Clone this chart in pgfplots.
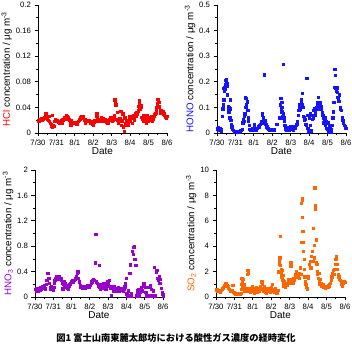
\documentclass[border=0pt]{standalone}
\usepackage{pgfplots}
\pgfplotsset{compat=1.18}
\usepackage{fontspec}
\setmainfont{Liberation Sans}
\newfontfamily\cjk{Noto Sans CJK JP}
\definecolor{cHCl}{RGB}{255,0,0}
\definecolor{cHONO}{RGB}{20,20,255}
\definecolor{cHNO}{RGB}{153,0,204}
\definecolor{cSO}{RGB}{255,102,0}
\pgfplotsset{
  panel/.style={
    scale only axis, width=129bp, height=128bp,
    xmin=0, xmax=7, ymin=0,
    axis lines*=left,
    axis line style={-, line width=0.9pt},
    every tick/.style={black, line width=0.8pt},
    tick align=outside,
    major tick length=3.5bp, minor tick length=2bp,
    xtick={0,1,2,3,4,5,6,7},
    xticklabels={7/30,7/31,8/1,8/2,8/3,8/4,8/5,8/6},
    minor x tick num=1, minor y tick num=1,
    tick label style={font=\fontsize{7.8}{8}\selectfont},
    /pgf/number format/assume math mode=true,
    /pgf/number format/fixed,
    xlabel={Date},
    xlabel style={font=\fontsize{10}{10}\selectfont, yshift=5bp},
    ylabel style={font=\fontsize{9.8}{10}\selectfont, yshift=-3bp},
    only marks,
    every axis plot/.append style={mark=square*, mark size=1.15bp},
  }
}
\begin{document}
\begin{tikzpicture}
\path[use as bounding box] (0bp,0bp) rectangle (352bp,351bp);
% HCl
\begin{axis}[panel, at={(38bp,218bp)}, anchor=south west, ymax=0.2,
  ytick={0,0.04,0.08,0.12,0.16,0.2},
  ylabel={{\color{cHCl}HCl} concentration / μg m\textsuperscript{-3}}]
\addplot[cHCl, mark options={fill=cHCl, draw=cHCl}] coordinates {
(0.00,0.020)(0.04,0.019)(0.08,0.021)(0.12,0.020)(0.16,0.022)(0.20,0.023)(0.24,0.021)(0.28,0.022)(0.32,0.024)(0.36,0.025)
(0.40,0.027)(0.42,0.030)(0.46,0.024)(0.50,0.022)(0.54,0.020)(0.58,0.026)(0.62,0.018)(0.66,0.015)(0.70,0.013)(0.74,0.011)
(0.76,0.028)(0.78,0.010)(0.82,0.012)(0.86,0.011)(0.90,0.018)(0.94,0.021)(0.98,0.020)(1.02,0.019)(1.06,0.018)(1.10,0.017)
(1.14,0.016)(1.18,0.017)(1.22,0.018)(1.26,0.020)(1.30,0.016)(1.34,0.021)(1.38,0.022)(1.42,0.024)(1.46,0.022)(1.50,0.025)
(1.54,0.028)(1.58,0.026)(1.62,0.024)(1.66,0.022)(1.70,0.020)(1.74,0.018)(1.78,0.013)(1.82,0.019)(1.86,0.017)(1.90,0.016)
(1.94,0.015)(1.98,0.016)(2.02,0.017)(2.06,0.015)(2.10,0.014)(2.14,0.016)(2.18,0.018)(2.22,0.020)(2.26,0.022)(2.30,0.024)
(2.34,0.026)(2.38,0.025)(2.42,0.026)(2.46,0.024)(2.50,0.022)(2.54,0.021)(2.58,0.015)(2.62,0.020)(2.66,0.019)(2.70,0.020)
(2.74,0.018)(2.78,0.019)(2.82,0.017)(2.86,0.015)(2.90,0.018)(2.94,0.014)(2.98,0.013)(3.02,0.017)(3.06,0.020)(3.10,0.018)
(3.14,0.026)(3.18,0.030)(3.22,0.024)(3.26,0.021)(3.30,0.019)(3.34,0.022)(3.38,0.020)(3.42,0.024)(3.46,0.021)(3.50,0.019)
(3.54,0.023)(3.58,0.018)(3.62,0.021)(3.66,0.020)(3.70,0.017)(3.74,0.019)(3.78,0.016)(3.82,0.018)(3.86,0.021)(3.90,0.022)
(3.94,0.025)(3.98,0.020)(4.02,0.018)(4.06,0.021)(4.10,0.024)(4.14,0.027)(4.17,0.052)(4.19,0.048)(4.21,0.044)(4.24,0.022)
(4.28,0.033)(4.32,0.020)(4.36,0.016)(4.40,0.018)(4.44,0.023)(4.48,0.034)(4.52,0.012)(4.56,0.019)(4.60,0.030)(4.63,0.010)
(4.67,0.003)(4.70,0.024)(4.74,0.015)(4.78,0.013)(4.82,0.020)(4.86,0.017)(4.90,0.012)(4.94,0.022)(4.98,0.026)(5.02,0.018)
(5.06,0.023)(5.10,0.015)(5.14,0.025)(5.18,0.028)(5.22,0.021)(5.26,0.030)(5.30,0.027)(5.34,0.032)(5.38,0.030)(5.42,0.035)
(5.46,0.042)(5.48,0.046)(5.50,0.051)(5.52,0.041)(5.55,0.038)(5.58,0.043)(5.61,0.040)(5.63,0.025)(5.66,0.022)(5.70,0.018)
(5.74,0.028)(5.78,0.024)(5.82,0.020)(5.86,0.016)(5.90,0.027)(5.94,0.022)(5.98,0.019)(6.02,0.025)(6.06,0.023)(6.10,0.021)
(6.14,0.026)(6.18,0.018)(6.22,0.022)(6.26,0.025)(6.30,0.027)(6.34,0.029)(6.38,0.031)(6.41,0.035)(6.44,0.040)(6.47,0.046)
(6.50,0.053)(6.53,0.052)(6.56,0.048)(6.59,0.041)(6.62,0.035)(6.66,0.031)(6.70,0.036)(6.74,0.033)(6.78,0.034)(6.82,0.030)
(6.86,0.028)(6.90,0.025)(6.94,0.023)(6.98,0.026)
};
\end{axis}
% HONO
\begin{axis}[panel, at={(217bp,218bp)}, anchor=south west, ymax=0.5,
  ytick={0,0.1,0.2,0.3,0.4,0.5},
  ylabel={{\color{cHONO}HONO} concentration / μg m\textsuperscript{-3}}]
\addplot[cHONO, mark options={fill=cHONO, draw=cHONO}] coordinates {
(0.00,0.020)(0.03,0.015)(0.06,0.022)(0.09,0.010)(0.12,0.018)(0.15,0.012)(0.18,0.020)(0.21,0.008)(0.24,0.015)(0.29,0.065)
(0.31,0.095)(0.33,0.110)(0.34,0.175)(0.36,0.130)(0.38,0.170)(0.40,0.165)(0.42,0.180)(0.44,0.170)(0.46,0.190)(0.48,0.205)
(0.49,0.210)(0.51,0.190)(0.53,0.195)(0.55,0.185)(0.57,0.150)(0.59,0.105)(0.61,0.095)(0.63,0.080)(0.65,0.100)(0.67,0.060)
(0.69,0.095)(0.71,0.130)(0.73,0.060)(0.75,0.050)(0.77,0.035)(0.80,0.025)(0.84,0.015)(0.88,0.010)(0.92,0.008)(0.96,0.005)
(1.00,0.003)(1.04,0.002)(1.08,0.004)(1.12,0.003)(1.16,0.006)(1.20,0.005)(1.24,0.008)(1.28,0.012)(1.32,0.010)(1.36,0.015)
(1.40,0.040)(1.43,0.055)(1.46,0.045)(1.48,0.065)(1.50,0.075)(1.52,0.100)(1.54,0.140)(1.56,0.135)(1.58,0.100)(1.60,0.110)
(1.62,0.120)(1.64,0.125)(1.66,0.090)(1.68,0.060)(1.70,0.045)(1.74,0.030)(1.78,0.015)(1.82,0.010)(1.86,0.015)(1.90,0.012)
(1.94,0.018)(1.98,0.015)(2.02,0.032)(2.06,0.015)(2.10,0.012)(2.14,0.018)(2.18,0.020)(2.22,0.022)(2.26,0.025)(2.30,0.030)
(2.34,0.035)(2.38,0.040)(2.42,0.045)(2.45,0.075)(2.47,0.070)(2.49,0.060)(2.51,0.055)(2.53,0.050)(2.55,0.045)(2.57,0.228)
(2.59,0.040)(2.61,0.050)(2.64,0.035)(2.67,0.030)(2.70,0.025)(2.73,0.020)(2.76,0.018)(2.80,0.015)(2.84,0.012)(2.88,0.010)
(2.92,0.015)(2.96,0.012)(3.00,0.010)(3.04,0.012)(3.08,0.010)(3.12,0.015)(3.24,0.035)(3.40,0.060)(3.43,0.110)(3.45,0.135)
(3.47,0.095)(3.49,0.080)(3.51,0.120)(3.53,0.100)(3.55,0.085)(3.57,0.065)(3.59,0.075)(3.60,0.268)(3.62,0.060)(3.64,0.045)
(3.67,0.030)(3.70,0.025)(3.73,0.015)(3.76,0.010)(3.80,0.018)(3.84,0.022)(3.88,0.015)(3.92,0.012)(3.96,0.020)(4.00,0.025)
(4.04,0.018)(4.08,0.015)(4.12,0.012)(4.16,0.020)(4.20,0.025)(4.24,0.018)(4.28,0.030)(4.32,0.035)(4.36,0.045)(4.40,0.070)
(4.43,0.090)(4.46,0.110)(4.49,0.095)(4.52,0.100)(4.55,0.120)(4.58,0.130)(4.61,0.110)(4.63,0.155)(4.66,0.100)(4.69,0.065)
(4.72,0.060)(4.75,0.050)(4.78,0.055)(4.81,0.035)(4.84,0.030)(4.87,0.215)(4.89,0.070)(4.92,0.020)(4.95,0.010)(4.98,0.005)
(5.01,0.060)(5.04,0.075)(5.07,0.030)(5.10,0.010)(5.13,0.008)(5.16,0.055)(5.19,0.070)(5.22,0.060)(5.25,0.090)(5.28,0.095)
(5.31,0.070)(5.34,0.080)(5.37,0.095)(5.40,0.100)(5.43,0.110)(5.46,0.120)(5.49,0.140)(5.52,0.115)(5.55,0.095)(5.58,0.110)
(5.61,0.120)(5.64,0.105)(5.67,0.095)(5.70,0.080)(5.73,0.070)(5.76,0.060)(5.79,0.040)(5.82,0.050)(5.85,0.060)(5.88,0.030)
(5.91,0.020)(5.94,0.045)(5.97,0.015)(6.00,0.040)(6.03,0.010)(6.06,0.005)(6.09,0.030)(6.12,0.020)(6.15,0.010)(6.18,0.003)
(6.21,0.015)(6.24,0.030)(6.28,0.060)(6.31,0.083)(6.34,0.120)(6.37,0.180)(6.39,0.250)(6.41,0.225)(6.43,0.175)(6.45,0.165)
(6.47,0.170)(6.49,0.180)(6.51,0.160)(6.53,0.175)(6.55,0.140)(6.58,0.130)(6.61,0.125)(6.64,0.150)(6.67,0.100)(6.70,0.095)
(6.74,0.090)(6.78,0.060)(6.82,0.050)(6.86,0.040)(6.90,0.030)(6.94,0.025)(6.98,0.020)
};
\end{axis}
% HNO3
\begin{axis}[panel, at={(35bp,54bp)}, anchor=south west, width=128bp, height=127bp, ymax=2,
  ytick={0,0.4,0.8,1.2,1.6,2},
  ylabel={{\color{cHNO}HNO\textsubscript{3}} concentration / μg m\textsuperscript{-3}}]
\addplot[cHNO, mark options={fill=cHNO, draw=cHNO}] coordinates {
(0.00,0.12)(0.05,0.10)(0.10,0.13)(0.15,0.09)(0.20,0.14)(0.25,0.11)(0.30,0.15)(0.35,0.12)(0.40,0.16)(0.45,0.14)
(0.50,0.18)(0.55,0.13)(0.60,0.20)(0.64,0.27)(0.68,0.37)(0.72,0.38)(0.75,0.30)(0.78,0.22)(0.82,0.15)(0.86,0.12)
(0.90,0.16)(0.94,0.13)(0.98,0.11)(1.02,0.15)(1.05,0.22)(1.08,0.26)(1.12,0.30)(1.16,0.32)(1.20,0.33)(1.24,0.29)
(1.28,0.31)(1.32,0.32)(1.36,0.28)(1.40,0.30)(1.44,0.26)(1.48,0.22)(1.52,0.13)(1.54,0.20)(1.58,0.24)(1.62,0.18)
(1.66,0.22)(1.70,0.19)(1.74,0.16)(1.78,0.14)(1.82,0.12)(1.86,0.17)(1.90,0.20)(1.94,0.22)(1.98,0.25)(2.02,0.23)
(2.06,0.27)(2.10,0.24)(2.14,0.26)(2.18,0.28)(2.22,0.30)(2.26,0.33)(2.30,0.37)(2.34,0.40)(2.38,0.30)(2.42,0.24)
(2.46,0.19)(2.50,0.16)(2.54,0.17)(2.58,0.14)(2.62,0.16)(2.66,0.15)(2.70,0.17)(2.74,0.14)(2.78,0.16)(2.82,0.15)
(2.86,0.18)(2.90,0.16)(2.94,0.15)(2.98,0.17)(3.02,0.19)(3.06,0.22)(3.10,0.24)(3.14,0.27)(3.18,0.28)(3.24,0.26)
(3.28,0.54)(3.32,0.99)(3.36,0.24)(3.40,0.22)(3.44,0.20)(3.48,0.18)(3.50,0.50)(3.54,0.15)(3.58,0.12)(3.62,0.20)
(3.66,0.17)(3.70,0.14)(3.74,0.21)(3.78,0.16)(3.82,0.19)(3.86,0.12)(3.90,0.22)(3.94,0.18)(3.98,0.25)(4.02,0.20)
(4.06,0.27)(4.10,0.14)(4.14,0.17)(4.18,0.03)(4.22,0.15)(4.26,0.13)(4.30,0.10)(4.34,0.16)(4.38,0.12)(4.42,0.09)
(4.46,0.14)(4.50,0.11)(4.54,0.15)(4.58,0.12)(4.62,0.10)(4.66,0.13)(4.70,0.11)(4.74,0.14)(4.78,0.12)(4.82,0.10)
(4.86,0.13)(4.90,0.16)(4.94,0.22)(4.98,0.30)(5.02,0.05)(5.06,0.02)(5.10,0.10)(5.14,0.02)(5.18,0.37)(5.20,0.51)
(5.24,0.02)(5.28,0.05)(5.32,0.72)(5.36,0.67)(5.40,0.78)(5.42,0.79)(5.46,0.60)(5.50,0.50)(5.54,0.02)(5.58,0.10)
(5.62,0.05)(5.66,0.12)(5.70,0.02)(5.74,0.08)(5.78,0.12)(5.82,0.15)(5.86,0.10)(5.90,0.20)(5.94,0.22)(5.98,0.18)
(6.02,0.15)(6.06,0.08)(6.10,0.02)(6.14,0.02)(6.18,0.03)(6.22,0.15)(6.26,0.02)(6.30,0.18)(6.34,0.12)(6.38,0.02)
(6.42,0.02)(6.46,0.10)(6.50,0.47)(6.54,0.02)(6.58,0.02)(6.62,0.40)(6.66,0.42)(6.70,0.30)(6.74,0.26)(6.78,0.32)
(6.82,0.22)(6.86,0.28)(6.90,0.14)(6.94,0.08)(6.98,0.04)(7.00,0.02)
};
\end{axis}
% SO2
\begin{axis}[panel, at={(216bp,54bp)}, anchor=south west, width=129bp, height=127bp, ymax=10,
  ytick={0,2,4,6,8,10},
  ylabel={{\color{cSO}SO\textsubscript{2}} concentration / μg m\textsuperscript{-3}}]
\addplot[cSO, mark options={fill=cSO, draw=cSO}] coordinates {
(0.00,0.55)(0.04,0.60)(0.08,0.50)(0.12,0.55)(0.16,0.45)(0.20,0.50)(0.24,0.40)(0.28,0.55)(0.32,0.60)(0.36,0.70)
(0.40,0.75)(0.44,0.85)(0.48,0.95)(0.52,1.05)(0.56,1.00)(0.60,0.90)(0.64,0.85)(0.68,0.70)(0.72,0.60)(0.76,0.55)
(0.80,0.50)(0.84,0.45)(0.88,0.50)(0.90,0.95)(0.94,0.40)(0.98,0.35)(1.02,0.30)(1.06,0.25)(1.10,0.22)(1.14,0.20)
(1.18,0.25)(1.22,0.22)(1.26,0.28)(1.30,0.25)(1.34,0.30)(1.36,0.60)(1.38,1.00)(1.40,1.50)(1.42,1.20)(1.44,0.80)
(1.46,1.40)(1.48,0.70)(1.50,1.00)(1.52,0.60)(1.54,0.80)(1.56,0.50)(1.58,0.70)(1.62,0.55)(1.66,0.65)(1.70,1.80)
(1.72,2.10)(1.74,1.90)(1.76,0.50)(1.80,0.65)(1.84,0.40)(1.88,0.70)(1.92,0.55)(1.96,0.80)(2.00,0.45)(2.04,0.60)
(2.08,0.35)(2.12,0.70)(2.16,0.50)(2.20,0.75)(2.24,0.40)(2.28,0.55)(2.32,0.65)(2.36,0.45)(2.40,0.80)(2.44,0.60)
(2.48,1.20)(2.50,1.05)(2.54,0.70)(2.58,0.50)(2.62,0.85)(2.66,0.40)(2.70,0.65)(2.74,0.35)(2.78,0.60)(2.82,0.45)
(2.86,0.70)(2.90,0.50)(2.94,0.40)(2.98,0.75)(3.02,0.55)(3.06,1.00)(3.10,0.45)(3.14,0.60)(3.18,0.40)(3.22,0.70)
(3.26,0.50)(3.30,0.35)(3.34,0.55)(3.40,2.00)(3.42,2.80)(3.44,2.60)(3.46,3.10)(3.48,4.80)(3.50,2.50)(3.52,2.20)
(3.54,1.90)(3.56,1.60)(3.58,2.10)(3.60,1.40)(3.62,1.30)(3.64,1.70)(3.66,1.10)(3.68,0.90)(3.70,1.20)(3.74,0.80)
(3.78,1.00)(3.82,1.10)(3.86,0.95)(3.90,1.20)(3.94,1.40)(3.98,1.10)(4.02,1.30)(4.05,2.70)(4.06,2.40)(4.08,1.20)
(4.12,1.40)(4.16,1.10)(4.20,1.50)(4.24,1.30)(4.28,1.60)(4.32,1.80)(4.36,2.00)(4.40,1.60)(4.44,1.70)(4.48,1.90)
(4.52,1.50)(4.56,2.30)(4.60,1.80)(4.62,4.30)(4.64,7.40)(4.66,7.60)(4.67,7.80)(4.69,6.30)(4.71,5.20)(4.73,4.30)
(4.75,3.60)(4.77,3.00)(4.79,2.20)(4.81,1.60)(4.84,1.20)(4.87,1.00)(4.90,0.80)(4.93,0.60)(4.96,0.70)(4.99,1.50)
(5.02,1.60)(5.06,2.60)(5.10,2.80)(5.14,2.30)(5.18,3.20)(5.22,3.60)(5.25,2.80)(5.28,5.40)(5.31,4.10)(5.34,3.10)
(5.36,8.60)(5.38,7.20)(5.40,6.90)(5.42,2.70)(5.44,4.50)(5.46,2.60)(5.48,2.00)(5.51,1.80)(5.54,1.50)(5.57,1.90)
(5.60,1.20)(5.63,1.00)(5.66,1.40)(5.69,0.90)(5.72,1.10)(5.76,0.85)(5.80,1.00)(5.84,0.80)(5.88,0.75)(5.92,0.70)
(5.96,0.80)(6.00,0.75)(6.04,0.85)(6.08,0.80)(6.12,0.90)(6.16,1.00)(6.20,1.10)(6.24,1.30)(6.28,1.60)(6.32,1.90)
(6.36,2.10)(6.40,1.80)(6.44,2.20)(6.48,2.60)(6.50,3.00)(6.52,3.20)(6.54,3.10)(6.56,2.60)(6.58,2.20)(6.62,1.80)
(6.66,1.60)(6.70,1.40)(6.74,1.30)(6.78,1.20)(6.82,1.00)(6.86,0.90)(6.90,1.10)(6.94,1.20)(6.98,1.15)
};
\end{axis}
\node[font=\cjk\bfseries\fontsize{9.3}{10}\selectfont] at (176bp,13bp) {図1 富士山南東麓太郎坊における酸性ガス濃度の経時変化};
\end{tikzpicture}
\end{document}
